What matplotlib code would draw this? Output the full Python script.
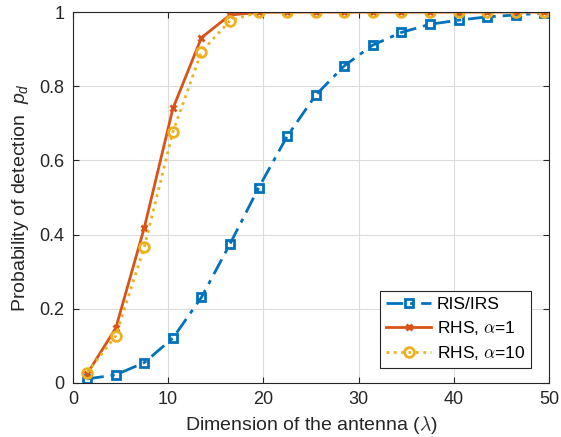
import matplotlib
matplotlib.use("Agg")
import matplotlib.pyplot as plt

x = [1.5, 4.5, 7.5, 10.5, 13.5, 16.5, 19.5, 22.5, 25.5, 28.5, 31.5, 34.5, 37.5, 40.5, 43.5, 46.5, 49.5]
ris = [0.011, 0.022, 0.055, 0.121, 0.231, 0.375, 0.526, 0.665, 0.776, 0.855, 0.911, 0.945, 0.967, 0.978, 0.987, 0.992, 0.997]
rhs1 = [0.025, 0.148, 0.419, 0.740, 0.931, 0.992, 0.999, 1.0, 1.0, 1.0, 1.0, 1.0, 1.0, 1.0, 1.0, 1.0, 1.0]
rhs10 = [0.028, 0.127, 0.367, 0.677, 0.893, 0.977, 0.999, 1.0, 1.0, 1.0, 1.0, 1.0, 1.0, 1.0, 1.0, 1.0, 1.0]
labels = ["RIS/IRS", r"RHS, $\alpha$=1", r"RHS, $\alpha$=10"]

plt.rcParams['font.family'] = ['Liberation Sans', 'DejaVu Sans']
plt.rcParams['mathtext.fontset'] = 'cm'
plt.rcParams['mathtext.it'] = 'Liberation Sans:italic'
plt.rcParams['mathtext.rm'] = 'Liberation Sans'
plt.rcParams['mathtext.bf'] = 'Liberation Sans:bold'

fig = plt.figure(figsize=(5.61, 4.37), dpi=100)
ax = fig.add_axes([0.130, 0.1236, 0.8486, 0.8489])

ax.plot(x, ris, color='#0072BD', linestyle='-.', linewidth=2, marker='s', markersize=5.5,
        markerfacecolor='none', markeredgewidth=2, label=labels[0], dashes=(6, 2.5, 1.5, 2.5))
ax.plot(x, rhs1, color='#D95319', linestyle='-', linewidth=2, marker='x', markersize=5,
        markeredgewidth=2, label=labels[1])
ax.plot(x, rhs10, color='#EDB120', linestyle=':', linewidth=2, marker='o', markersize=7,
        markerfacecolor='none', markeredgewidth=2, label=labels[2])

ax.set_xlim(0, 50)
ax.set_ylim(0, 1)
ax.set_xticks([0, 10, 20, 30, 40, 50])
ax.set_yticks([0, 0.2, 0.4, 0.6, 0.8, 1])
ax.set_yticklabels(['0', '0.2', '0.4', '0.6', '0.8', '1'])
ax.grid(True, color='#dcdcdc', linewidth=0.8)
ax.set_axisbelow(True)
ax.tick_params(direction='in', top=True, right=True, labelsize=13, colors='#262626', length=4, pad=6)
for s in ax.spines.values():
    s.set_color('#262626')
    s.set_linewidth(0.8)

ax.set_xlabel(r"Dimension of the antenna ($\lambda$)", fontsize=14, color='#262626', labelpad=4)
ax.set_ylabel(r"Probability of detection  $p_d$", fontsize=14, color='#262626',
              math_fontfamily='custom', labelpad=6)

leg = ax.legend(loc='lower right', fontsize=12.5, fancybox=False, framealpha=1,
                edgecolor='#262626', handlelength=2.6, borderpad=0.35, labelspacing=0.4,
                handletextpad=0.3, borderaxespad=0, bbox_to_anchor=(0.962, 0.040))
leg.get_frame().set_linewidth(0.8)

fig.savefig("out.png", dpi=100)
